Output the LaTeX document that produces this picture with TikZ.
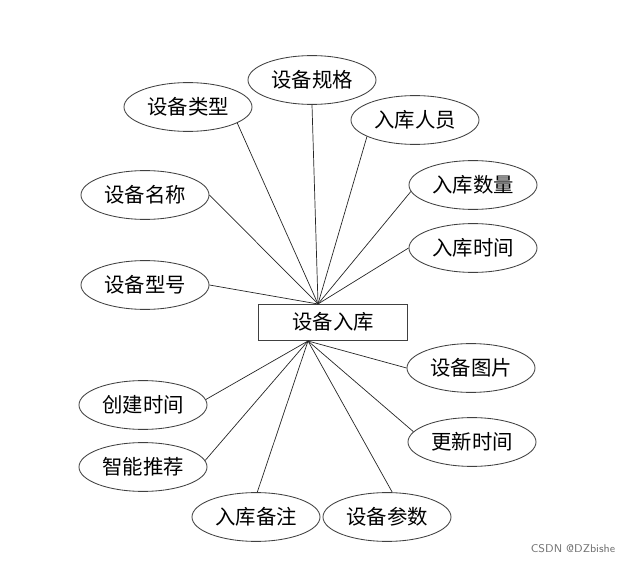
\documentclass[tikz,border=0pt]{standalone}
\usepackage{fontspec}
\newfontfamily\cjk{Noto Sans CJK SC}
\usetikzlibrary{shapes.geometric}

\begin{document}
\begin{tikzpicture}[
    x=0.025cm, y=-0.025cm,
    every node/.style={font=\cjk\fontsize{14.5}{17}\selectfont},
    attrNode/.style={ellipse, draw=black!75, line width=0.6pt, minimum width=3.2cm, minimum height=1.22cm, inner sep=0pt},
    entNode/.style={rectangle, draw=black!75, line width=0.6pt, minimum width=3.72cm, minimum height=0.9cm, inner sep=0pt},
    edge/.style={draw=black!85, line width=0.5pt}
]
    \useasboundingbox (0,0) rectangle (634,565);

    % entity
    \node[entNode] (ent) at (333,322) {设备入库};
    \coordinate (up) at (318,304);
    \coordinate (down) at (308,341);

    % attributes above
    \node[attrNode] (gg) at (312,80) {设备规格};
    \node[attrNode] (lx) at (188,107) {设备类型};
    \node[attrNode] (ry) at (415,120) {入库人员};
    \node[attrNode] (mc) at (145,195) {设备名称};
    \node[attrNode] (sl) at (473,185) {入库数量};
    \node[attrNode] (rt) at (473,248) {入库时间};
    \node[attrNode] (xh) at (145,285) {设备型号};

    % attributes below
    \node[attrNode] (tp) at (471,368) {设备图片};
    \node[attrNode] (ct) at (143,405) {创建时间};
    \node[attrNode] (ut) at (472,442) {更新时间};
    \node[attrNode] (tj) at (143,467) {智能推荐};
    \node[attrNode] (bz) at (256,517) {入库备注};
    \node[attrNode] (cs) at (387,517) {设备参数};

    \foreach \a in {gg.south,lx.-18,ry.199,mc.east,sl.186,rt.west,xh.east}
        \draw[edge] (up) -- (\a);
    \foreach \a in {tp.west,ct.5,ut.170,tj.6,bz.87,cs.78}
        \draw[edge] (down) -- (\a);

    \node[font=\fontsize{8}{9}\selectfont\sffamily, text=black!55] (wm) at (573,549) {CSDN @DZbishe};
\end{tikzpicture}
\end{document}
